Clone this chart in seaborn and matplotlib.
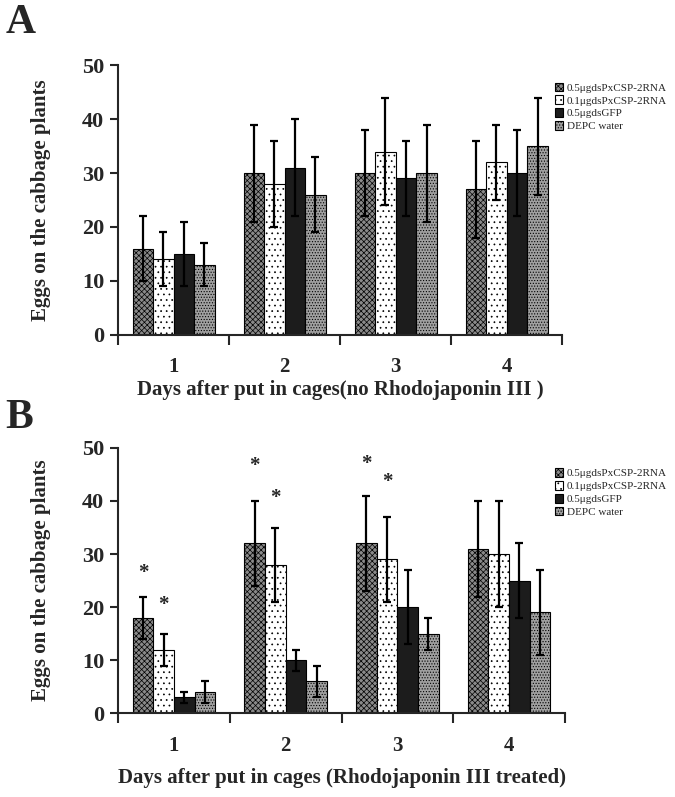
import numpy as np
import pandas as pd
import seaborn as sns
import matplotlib.pyplot as plt

sns.set_style('ticks')
plt.rcParams['font.family'] = ['Liberation Serif', 'DejaVu Serif']
plt.rcParams['font.weight'] = 'bold'
plt.rcParams['hatch.linewidth'] = 0.5

days = ['1', '2', '3', '4']
treatments = ['0.5μgdsPxCSP-2RNA', '0.1μgdsPxCSP-2RNA', '0.5μgdsGFP', 'DEPC water']

# panel A: no Rhodojaponin III (rows = treatment, cols = day)
mean_a = [[16, 30, 30, 27],
          [14, 28, 34, 32],
          [15, 31, 29, 30],
          [13, 26, 30, 35]]
err_a = [[6, 9, 8, 9],
         [5, 8, 10, 7],
         [6, 9, 7, 8],
         [4, 7, 9, 9]]

# panel B: Rhodojaponin III treated
mean_b = [[18, 32, 32, 31],
          [12, 28, 29, 30],
          [3, 10, 20, 25],
          [4, 6, 15, 19]]
err_b = [[4, 8, 9, 9],
         [3, 7, 8, 10],
         [1, 2, 7, 7],
         [2, 3, 3, 8]]

# significance stars in panel B: (treatment index, day index, y)
stars_b = [(0, 0, 26.5), (1, 0, 20.5), (0, 1, 46.5), (1, 1, 40.5), (0, 2, 47), (1, 2, 43.5)]

faces = ['#8a8a8a', 'white', '#1c1c1c', '#a0a0a0']
hatches = ['xxxxxx', '...', '', '......']


def long_df(means):
    rows = []
    for t, vals in zip(treatments, means):
        for d, v in zip(days, vals):
            rows.append({'day': d, 'eggs': v, 'treatment': t})
    return pd.DataFrame(rows)


def draw(ax, means, errs, xlabel, stars=None, xpad=2):
    df = long_df(means)
    sns.barplot(data=df, x='day', y='eggs', hue='treatment', errorbar=None,
                width=0.74, gap=0, ax=ax, legend=False)
    bars = list(ax.containers)
    for i, cont in enumerate(bars):
        xs = []
        for p in cont.patches:
            p.set_facecolor(faces[i])
            p.set_edgecolor('black')
            p.set_linewidth(0.8)
            p.set_hatch(hatches[i])
            xs.append(p.get_x() + p.get_width() / 2)
        ax.errorbar(xs, means[i], yerr=errs[i], fmt='none', ecolor='black',
                    elinewidth=1.6, capsize=3, capthick=1.6, zorder=5)
    if stars:
        for ti, di, y in stars:
            p = bars[ti].patches[di]
            ax.text(p.get_x() + p.get_width() / 2, y, '*', ha='center', va='center',
                    fontsize=15, fontweight='bold')
    ax.set_ylim(0, 50)
    ax.set_xlim(-0.5, 3.5)
    ax.set_yticks([0, 10, 20, 30, 40, 50])
    ax.set_xticks(np.arange(4))
    ax.set_xticks(np.arange(-0.5, 4, 1), minor=True)
    ax.tick_params(axis='x', which='major', length=0, pad=16, labelsize=15)
    ax.tick_params(axis='x', which='minor', length=7, width=1.5, direction='out')
    ax.tick_params(axis='y', length=6, width=1.5, labelsize=16, pad=4)
    for lab in ax.get_xticklabels() + ax.get_yticklabels():
        lab.set_fontweight('bold')
    ax.spines['top'].set_visible(False)
    ax.spines['right'].set_visible(False)
    ax.spines['left'].set_linewidth(1.5)
    ax.spines['bottom'].set_linewidth(1.5)
    ax.set_ylabel('Eggs on the cabbage plants', fontsize=15, fontweight='bold', labelpad=22)
    ax.set_xlabel(xlabel, fontsize=15, fontweight='bold', labelpad=xpad)
    return bars


fig = plt.figure(figsize=(6.75, 7.97), dpi=100)

legend_kw = dict(loc='upper left', frameon=False, prop={'size': 8, 'weight': 'normal'},
                 handlelength=0.8, handleheight=0.8, handletextpad=0.3,
                 labelspacing=0.25, borderaxespad=0)

ax1 = fig.add_axes([0.175, 0.580, 0.658, 0.338])
bars1 = draw(ax1, mean_a, err_a, 'Days after put in cages(no Rhodojaponin III )')
fig.legend(handles=[c.patches[0] for c in bars1], labels=treatments,
           bbox_to_anchor=(0.815, 0.902), **legend_kw)

ax2 = fig.add_axes([0.175, 0.105, 0.662, 0.333])
bars2 = draw(ax2, mean_b, err_b, 'Days after put in cages (Rhodojaponin III treated)',
             stars_b, xpad=9)
fig.legend(handles=[c.patches[0] for c in bars2], labels=treatments,
           bbox_to_anchor=(0.815, 0.418), **legend_kw)

fig.text(0.008, 0.995, 'A', fontsize=30, fontweight='bold', va='top')
fig.text(0.008, 0.500, 'B', fontsize=30, fontweight='bold', va='top')

fig.savefig('out.png', dpi=100)
